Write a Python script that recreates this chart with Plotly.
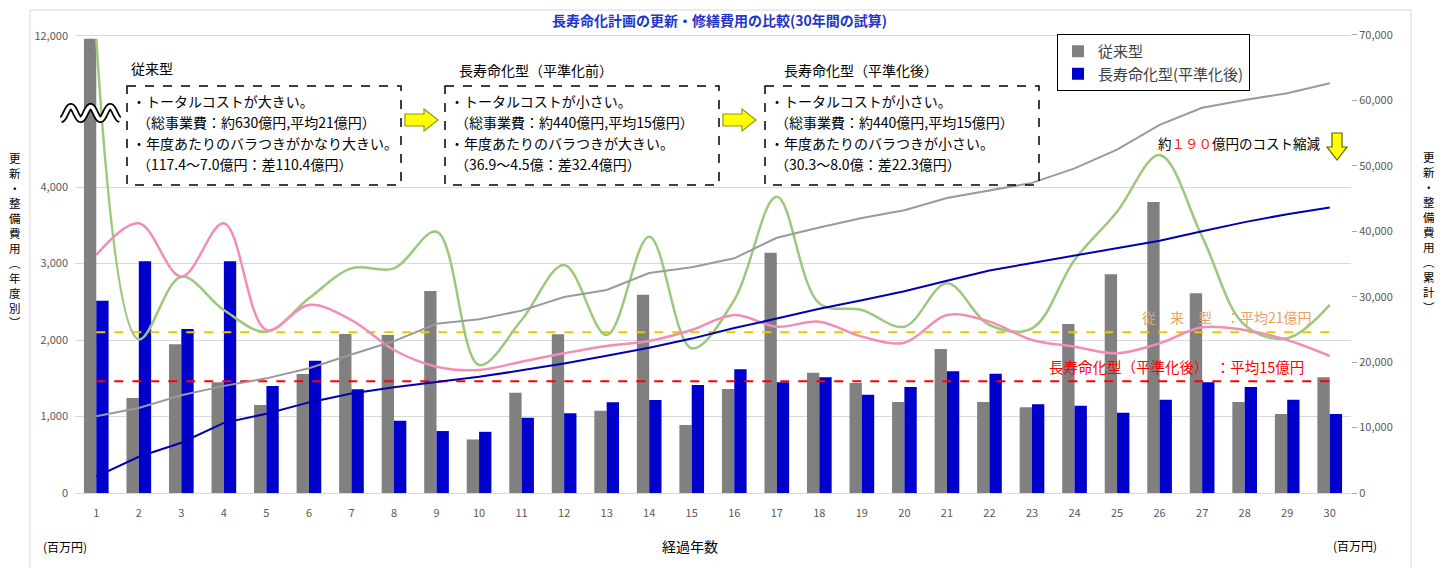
import numpy as np
import plotly.graph_objects as go

# ---------------- data ----------------
years = list(range(1, 31))
year_labels = [str(y) for y in years]

# 年度別費用（百万円）
conventional = [11740, 1242, 1944, 1447, 1150, 1556, 2078, 2065, 2640, 700,
                1311, 2074, 1076, 2592, 889, 1359, 3141, 1573, 1438, 1190,
                1882, 1190, 1120, 2209, 2858, 3804, 2610, 1190, 1033, 1512]
leveled = [2514, 3030, 2144, 3030, 1399, 1730, 1355, 946, 810, 800,
           985, 1041, 1185, 1216, 1412, 1617, 1447, 1512, 1285, 1386,
           1591, 1560, 1159, 1141, 1050, 1220, 1447, 1386, 1220, 1033]
green_line = [11740, 2009, 2828, 2392, 2109, 2545, 2937, 2937, 3416, 1673,
              2261, 2980, 2065, 3351, 1891, 2523, 3873, 2479, 2392, 2174,
              2741, 2196, 2153, 3046, 3677, 4418, 3351, 2196, 2022, 2458]
pink_line = [3111, 3525, 2828, 3525, 2131, 2458, 2261, 1869, 1651, 1608,
             1717, 1826, 1922, 1987, 2131, 2327, 2174, 2240, 2044, 1965,
             2327, 2240, 2000, 1913, 1826, 1956, 2166, 2131, 2000, 1791]
avg_conventional = 2100
avg_leveled = 1460

left_ticks = [0, 1000, 2000, 3000, 4000, 12000]
left_tick_text = ["0", "1,000", "2,000", "3,000", "4,000", "12,000"]
right_ticks = [0, 10000, 20000, 30000, 40000, 50000, 60000, 70000]
right_tick_text = ["0", "10,000", "20,000", "30,000", "40,000", "50,000", "60,000", "70,000"]

# cumulative values (累計)
cum_conventional = np.cumsum(conventional)
cum_leveled = np.cumsum(leveled)

# ---------------- broken left axis ----------------
LIN_MAX = 5000     # axis is linear up to the break mark
BREAK_TOP = 12000
BREAK_POS = 5974   # where 12,000 is drawn on the compressed axis


def brk(v):
    v = np.asarray(v, dtype=float)
    return np.where(v <= LIN_MAX, v,
                    LIN_MAX + (v - LIN_MAX) * (BREAK_POS - LIN_MAX) / (BREAK_TOP - LIN_MAX))


FONT = "Noto Sans CJK JP"
OFF = 8                      # default page margin of the html body
W, H = 1445 - OFF, 568 - OFF
L, R, T, B = 75, 1351, 14, 493   # plot area in page pixels


def px(X):
    return (X - L) / (R - L)


def py(Y):
    return (B - Y) / (B - T)


fig = go.Figure()

fig.add_trace(go.Bar(x=years, y=brk(conventional), name="従来型",
                     marker=dict(color="#808080", line=dict(width=0)),
                     customdata=conventional, hovertemplate="%{customdata}<extra></extra>"))
fig.add_trace(go.Bar(x=years, y=brk(leveled), name="長寿命化型(平準化後)",
                     marker=dict(color="#0000CC", line=dict(width=0))))

fig.add_trace(go.Scatter(x=years, y=[avg_conventional] * len(years), mode="lines",
                         line=dict(color="#E8C800", width=2, dash="dash"), showlegend=False))
fig.add_trace(go.Scatter(x=years, y=[avg_leveled] * len(years), mode="lines",
                         line=dict(color="#FF0000", width=2, dash="dash"), showlegend=False))

fig.add_trace(go.Scatter(x=years, y=brk(green_line), mode="lines",
                         line=dict(color="#9CC87C", width=2.5, shape="spline", smoothing=1.0),
                         showlegend=False))
fig.add_trace(go.Scatter(x=years, y=brk(pink_line), mode="lines",
                         line=dict(color="#F28DB8", width=2.5, shape="spline", smoothing=1.0),
                         showlegend=False))

fig.add_trace(go.Scatter(x=years, y=cum_conventional, yaxis="y2", mode="lines",
                         line=dict(color="#9A9A9A", width=2), showlegend=False))
fig.add_trace(go.Scatter(x=years, y=cum_leveled, yaxis="y2", mode="lines",
                         line=dict(color="#0000B0", width=2), showlegend=False))

# ---------------- annotations ----------------
ann = []


def note(X, Y, text, size=13, color="#000000", xanchor="left", yanchor="middle"):
    ann.append(dict(x=px(X), y=py(Y), xref="paper", yref="paper", text=text,
                    showarrow=False, xanchor=xanchor, yanchor=yanchor,
                    font=dict(size=size, color=color, family=FONT)))


note(720, 20, "<b>長寿命化計画の更新・修繕費用の比較(30年間の試算)</b>", size=14,
     color="#2336C8", xanchor="center")

note(129, 68, "従来型", size=14)
note(457, 70, "長寿命化型（平準化前）", size=14)
note(782, 70, "長寿命化型（平準化後）", size=14)

box_texts = [
    ["・トータルコストが大きい。", "（総事業費：約630億円,平均21億円）",
     "・年度あたりのバラつきがかなり大きい。", "（117.4～7.0億円：差110.4億円）"],
    ["・トータルコストが小さい。", "（総事業費：約440億円,平均15億円）",
     "・年度あたりのバラつきが大きい。", "（36.9～4.5億：差32.4億円）"],
    ["・トータルコストが小さい。", "（総事業費：約440億円,平均15億円）",
     "・年度あたりのバラつきが小さい。", "（30.3～8.0億：差22.3億円）"],
]
box_x = [127, 445, 765]
line_y = [101, 122, 143, 164]
for bx, lines in zip(box_x, box_texts):
    for i, (ly, t) in enumerate(zip(line_y, lines)):
        note(bx + 3 + (5 if i % 2 else 0), ly, t, size=14)

note(1140, 317, "従　来　型　：平均21億円", size=14, color="#E8A060")
note(1047, 366, "長寿命化型（平準化後）　：平均15億円", size=14.5, color="#FF0000")
note(1156, 143, "約<span style='color:#FF2020'>１９０</span>億円のコスト縮減", size=13.5)

note(690, 546, "経過年数", size=14, xanchor="center")
note(65, 546, "(百万円)", size=12, xanchor="center")
note(1355, 545, "(百万円)", size=12, xanchor="center")

# vertical (stacked) axis titles
note(15, 240, "<br>".join("更新・整備費用︵年度別︶"), size=11.5, xanchor="center")
note(1429, 232, "<br>".join("更新・整備費用︵累計︶"), size=11.5, xanchor="center")

# ---------------- shapes ----------------
shapes = []
for bx in box_x:
    shapes.append(dict(type="rect", xref="paper", yref="paper",
                       x0=px(bx), x1=px(bx + 274), y0=py(86), y1=py(185),
                       line=dict(color="#000000", width=1.5, dash="dash"),
                       fillcolor="rgba(255,255,255,0)", layer="above"))


def poly(points):
    return "M " + " L ".join(f"{px(a):.5f},{py(b):.5f}" for a, b in points) + " Z"


for ax0 in (405, 723):
    pts = [(ax0, 114), (ax0 + 19, 114), (ax0 + 19, 109), (ax0 + 33, 120),
           (ax0 + 19, 131), (ax0 + 19, 126), (ax0, 126)]
    shapes.append(dict(type="path", xref="paper", yref="paper", path=poly(pts),
                       fillcolor="#FFFF00", line=dict(color="#8C9A1A", width=1.2)))

dpts = [(1332, 133), (1342, 133), (1342, 147), (1347, 147), (1337, 160), (1327, 147), (1332, 147)]
shapes.append(dict(type="path", xref="paper", yref="paper", path=poly(dpts),
                   fillcolor="#FFFF00", line=dict(color="#606000", width=1.2)))

# wavy break mark
wx = np.linspace(61, 120, 90)
wy = 113 + 6.5 * np.cos(2 * np.pi * (wx - 61) / 19.7)
wpath = "M " + " L ".join(f"{px(a):.5f},{py(b):.5f}" for a, b in zip(wx, wy))
shapes.append(dict(type="path", xref="paper", yref="paper", path=wpath,
                   line=dict(color="#000000", width=7)))
shapes.append(dict(type="path", xref="paper", yref="paper", path=wpath,
                   line=dict(color="#FFFFFF", width=3.5)))

# chart frame
shapes.append(dict(type="rect", xref="paper", yref="paper",
                   x0=px(30), x1=px(1411), y0=py(575), y1=py(10),
                   line=dict(color="#D9D9D9", width=1), layer="below"))

fig.update_layout(
    width=W, height=H,
    margin=dict(l=L - OFF, r=W - (R - OFF), t=T - OFF, b=H - (B - OFF)),
    plot_bgcolor="white", paper_bgcolor="white",
    barmode="group", bargap=0.42, bargroupgap=0,
    font=dict(family=FONT, size=12, color="#000000"),
    annotations=ann, shapes=shapes,
    legend=dict(x=px(1057), y=py(34), xanchor="left", yanchor="top",
                bgcolor="white", bordercolor="#000000", borderwidth=1,
                font=dict(size=15, color="#404040", family=FONT)),
    xaxis=dict(range=[0.5, 30.5], tickvals=years, ticktext=year_labels,
               showgrid=False, zeroline=False, showline=True, linecolor="#D9D9D9",
               ticks="", tickfont=dict(size=11, color="#595959"), ticklabelstandoff=10),
    yaxis=dict(range=[0, (B - T) / 0.0765], tickvals=list(brk(left_ticks)),
               ticktext=left_tick_text, showgrid=True, gridcolor="#D9D9D9",
               zeroline=False, showline=False, ticks="",
               tickfont=dict(size=11, color="#595959"), ticklabelstandoff=6),
    yaxis2=dict(range=[0, (B - T) / 0.006543], overlaying="y", side="right",
                tickvals=right_ticks, ticktext=right_tick_text, showgrid=False,
                zeroline=False, showline=False, ticks="outside", ticklen=5,
                tickcolor="#A6A6A6", tickfont=dict(size=11, color="#595959")),
)

fig.write_html("out.html")
